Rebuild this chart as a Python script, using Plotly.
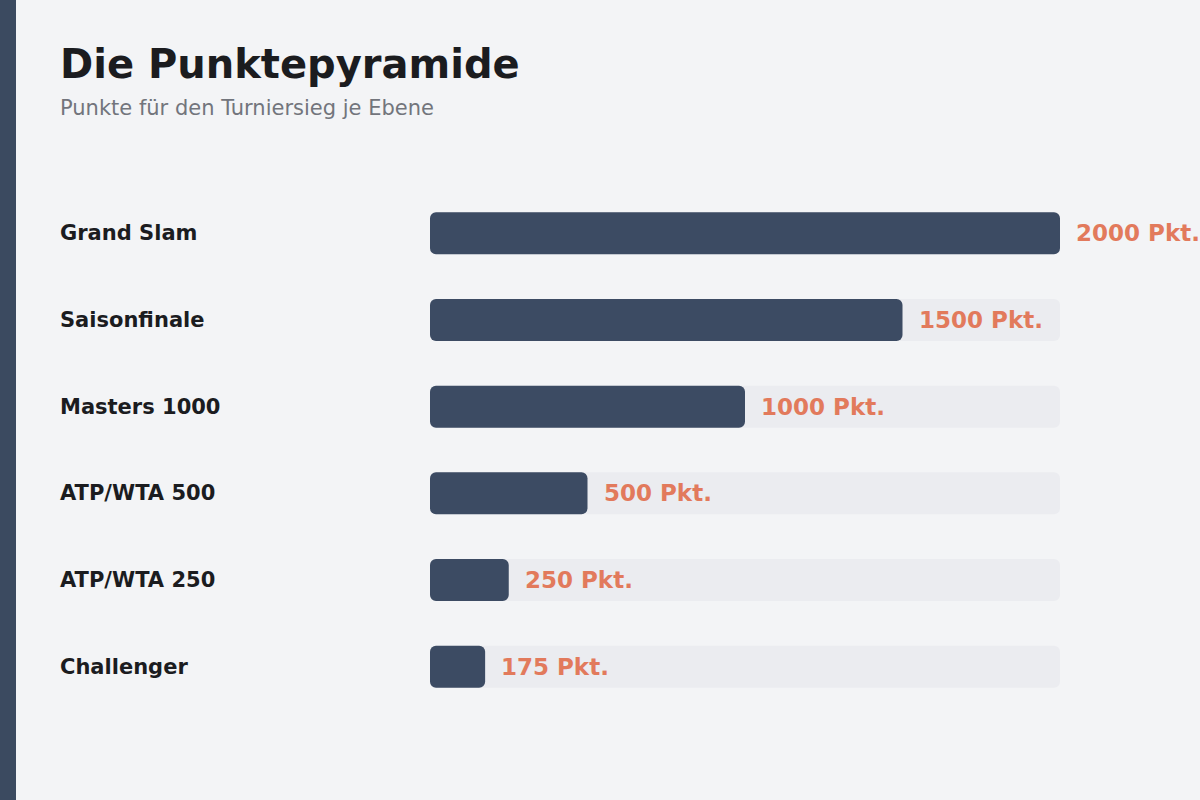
import plotly.graph_objects as go

# Daten
ebenen = ["Grand Slam", "Saisonfinale", "Masters 1000", "ATP/WTA 500", "ATP/WTA 250", "Challenger"]
punkte = [2000, 1500, 1000, 500, 250, 175]
max_punkte = 2000

# Farben
bg = "#f3f4f6"
bar_col = "#3c4b63"
track_col = "#ebecf0"
accent = "#e27a5c"
ink = "#1b1c1f"

W, H = 1200, 800
L, R, T, B = 430, 140, 190, 90
pw, ph = W - L - R, H - T - B


def px_x(px):
    return (px - L) / pw


def px_y(py):
    return (H - B - py) / ph


fig = go.Figure()

# Hintergrundspur (base gesetzt -> beide Enden abgerundet)
fig.add_trace(go.Bar(
    x=[max_punkte] * len(ebenen), base=[0] * len(ebenen), y=ebenen, orientation="h",
    marker=dict(color=track_col, line=dict(width=0)),
    width=0.484, hoverinfo="skip", showlegend=False,
))

# eigentliche Balken
fig.add_trace(go.Bar(
    x=punkte, base=[0] * len(ebenen), y=ebenen, orientation="h",
    marker=dict(color=bar_col, line=dict(width=0)),
    width=0.484, showlegend=False,
    hovertemplate="%{y}: %{x} Pkt.<extra></extra>",
))

annotations = []
for e, p in zip(ebenen, punkte):
    # Wert rechts neben dem Balken
    annotations.append(dict(
        x=p, y=e, xref="x", yref="y", text=f"{p} Pkt.",
        xanchor="left", yanchor="middle", xshift=14, showarrow=False,
        font=dict(family="DejaVu Sans", size=23, color=accent, weight="bold"),
    ))
    # Kategorie links
    annotations.append(dict(
        x=px_x(58), y=e, xref="paper", yref="y", text=e,
        xanchor="left", yanchor="middle", showarrow=False,
        font=dict(family="DejaVu Sans", size=21, color=ink, weight="bold"),
    ))

# Titel + Untertitel
annotations.append(dict(
    x=px_x(58), y=px_y(64), xref="paper", yref="paper", text="Die Punktepyramide",
    xanchor="left", yanchor="middle", showarrow=False,
    font=dict(family="DejaVu Sans", size=40, color=ink, weight="bold"),
))
annotations.append(dict(
    x=px_x(58), y=px_y(108), xref="paper", yref="paper",
    text="Punkte für den Turniersieg je Ebene",
    xanchor="left", yanchor="middle", showarrow=False,
    font=dict(family="DejaVu Sans", size=21, color="#72757c"),
))

fig.update_layout(
    width=W, height=H,
    margin=dict(l=L, r=R, t=T, b=B),
    paper_bgcolor=bg, plot_bgcolor=bg,
    barmode="overlay", barcornerradius=6,
    xaxis=dict(range=[0, max_punkte], visible=False, fixedrange=True),
    yaxis=dict(categoryorder="array", categoryarray=ebenen, autorange="reversed",
               visible=False, fixedrange=True),
    annotations=annotations,
    shapes=[dict(type="rect", xref="paper", yref="paper",
                 x0=px_x(0), x1=px_x(16), y0=px_y(800), y1=px_y(0),
                 fillcolor="#3b4a60", line=dict(width=0), layer="below")],
    showlegend=False,
)

fig.write_html("out.html", config={"displayModeBar": False},
               post_script="document.body.style.margin='0';")
